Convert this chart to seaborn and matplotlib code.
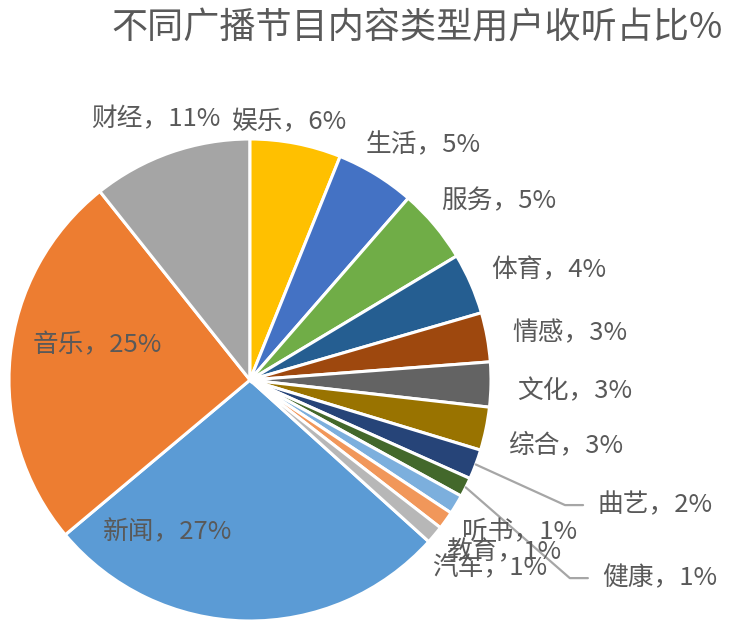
import matplotlib
matplotlib.use("Agg")
import matplotlib.pyplot as plt
import seaborn as sns
import numpy as np

# ---------------- data ----------------
categories = ["新闻", "音乐", "财经", "娱乐", "生活", "服务", "体育", "情感",
              "文化", "综合", "曲艺", "健康", "听书", "教育", "汽车"]
shares = [27.2, 25.4, 10.7, 6.1, 5.3, 5.0, 4.1, 3.3, 3.0, 2.9, 2.0, 1.3, 1.3, 1.2, 1.2]
title_text = "不同广播节目内容类型用户收听占比%"

# ---------------- style ----------------
colors = ["#5B9BD5", "#ED7D31", "#A5A5A5", "#FFC000", "#4472C4", "#70AD47",
          "#255E91", "#9E480E", "#636363", "#997300", "#264478", "#43682B",
          "#7CAFDD", "#F1975A", "#B7B7B7"]
TEXT_COLOR = "#595959"
FONT = ["Noto Sans CJK SC", "DejaVu Sans"]

# label centres in pie-radius units (layout only)
label_centre = {
    "财经": (-0.390, 1.083), "娱乐": (0.166, 1.068), "生活": (0.720, 0.975),
    "服务": (1.033, 0.741), "体育": (1.239, 0.456), "情感": (1.328, 0.193),
    "文化": (1.349, -0.048), "综合": (1.309, -0.272), "听书": (1.120, -0.631),
    "教育": (1.054, -0.714), "汽车": (0.996, -0.780), "音乐": (-0.635, 0.145),
    "新闻": (-0.340, -0.631),
}
# labels with leader lines: left edge position
leader_left = {"曲艺": (1.440, -0.519), "健康": (1.460, -0.822)}

sns.set_theme(style="white")
plt.rcParams["font.family"] = FONT

fig = plt.figure(figsize=(7.37, 6.25), dpi=100)
cx, cy, rad = 250, 380, 241
W, H = 737, 625
ax = fig.add_axes([(cx - rad) / W, (H - cy - rad) / H, 2 * rad / W, 2 * rad / H])

palette = sns.color_palette(colors)
total = sum(shares)
# rotate so that the 4th slice (娱乐) starts at 12 o'clock, going clockwise
start = 90 + 360 * sum(shares[:3]) / total
wedges, _ = ax.pie(shares, colors=palette, startangle=start, counterclock=False,
                   radius=1.0, center=(0, 0),
                   wedgeprops=dict(edgecolor="white", linewidth=2.2))
ax.set_xlim(-1, 1)
ax.set_ylim(-1, 1)
ax.set_aspect("equal")
ax.axis("off")

for cat, val, w in zip(categories, shares, wedges):
    txt = f"{cat}，{int(round(val))}%"
    if cat in label_centre:
        x, y = label_centre[cat]
        ax.text(x, y, txt, ha="center", va="center", fontsize=18.5,
                color=TEXT_COLOR, family=FONT, fontweight="light", clip_on=False)
    elif cat in leader_left:
        lx, ly = leader_left[cat]
        th = np.deg2rad((w.theta1 + w.theta2) / 2)
        sx, sy = np.cos(th), np.sin(th)
        ax.plot([sx, lx - 0.133, lx - 0.058], [sy, ly, ly], color="#A6A6A6",
                lw=1.6, clip_on=False, zorder=1)
        ax.text(lx, ly, txt, ha="left", va="center", fontsize=18.5,
                color=TEXT_COLOR, family=FONT, fontweight="light", clip_on=False)

fig.text(417 / W, 1 - 28 / H, title_text, ha="center", va="center",
         fontsize=26, color=TEXT_COLOR, family=FONT, fontweight="light")

fig.savefig("out.png", dpi=100, facecolor="white")
